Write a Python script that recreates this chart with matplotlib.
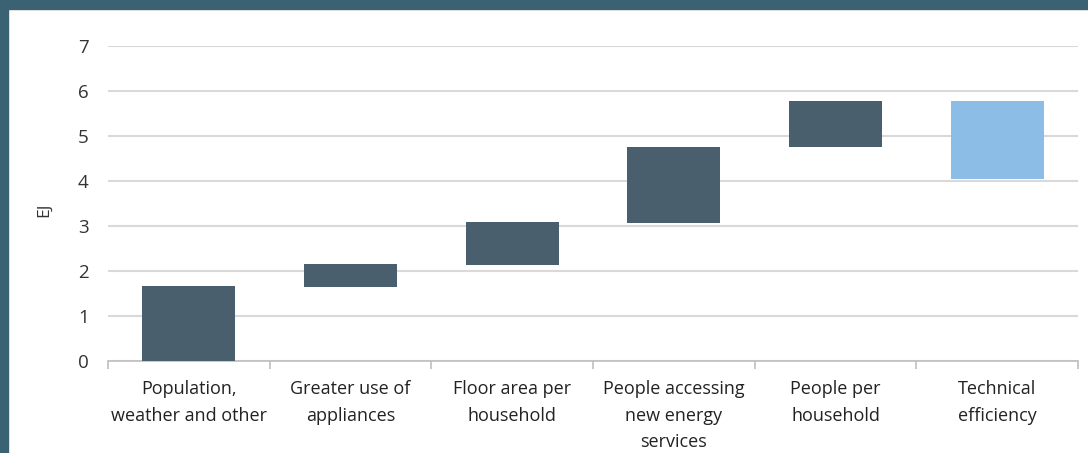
"""Waterfall: Zerlegung des Energiebedarfs von Gebäuden (EJ)."""

import matplotlib
matplotlib.use("Agg")
import matplotlib.pyplot as plt
from matplotlib.patches import Rectangle

# Daten

KATEGORIEN = [
    "Population,\nweather and other",
    "Greater use of\nappliances",
    "Floor area per\nhousehold",
    "People accessing\nnew energy\nservices",
    "People per\nhousehold",
    "Technical\nefficiency",
]
UNTEN = [0.0, 1.65, 2.13, 3.07, 4.76, 4.05]
OBEN = [1.66, 2.15, 3.08, 4.76, 5.78, 5.78]
FARBEN = ["#4a5f6d", "#4a5f6d", "#4a5f6d", "#4a5f6d", "#4a5f6d", "#8bbde6"]
Y_TICKS = [0, 1, 2, 3, 4, 5, 6, 7]

plt.rcParams["font.family"] = ["Open Sans", "DejaVu Sans"]

fig = plt.figure(figsize=(10.88, 4.53), dpi=100)
fig.patch.set_facecolor("white")

# Rahmen oben und links
rand = "#3a6272"
fig.patches.append(Rectangle((0, 1 - 9 / 453), 1, 9 / 453,
                             transform=fig.transFigure, color=rand, zorder=0))
fig.patches.append(Rectangle((0, 0), 8 / 1088, 1,
                             transform=fig.transFigure, color=rand, zorder=0))

ax = fig.add_axes([108 / 1088, 1 - 361 / 453, 970 / 1088, 315 / 453])

x = list(range(len(KATEGORIEN)))
hoehen = [o - u for o, u in zip(OBEN, UNTEN)]
ax.bar(x, hoehen, bottom=UNTEN, width=0.575, color=FARBEN, zorder=3)

ax.set_xlim(-0.5, len(KATEGORIEN) - 0.5)
ax.set_ylim(0, 7)
ax.set_yticks(Y_TICKS)
ax.yaxis.grid(True, color="#d9d9d9", linewidth=1.5, zorder=0)
ax.set_axisbelow(True)

ax.set_xticks(x)
ax.set_xticklabels(KATEGORIEN, fontsize=13, color="#222222",
                   linespacing=1.6)
ax.set_xticks([i - 0.5 for i in range(len(KATEGORIEN) + 1)], minor=True)
ax.tick_params(axis="x", which="major", length=0, pad=14)
ax.tick_params(axis="x", which="minor", length=6, color="#bfbfbf", width=1.2)
ax.tick_params(axis="y", length=0, pad=14, labelsize=13.5, labelcolor="#333333")

for s in ["top", "right", "left"]:
    ax.spines[s].set_visible(False)
ax.spines["bottom"].set_color("#bfbfbf")
ax.spines["bottom"].set_linewidth(1.2)

ax.set_ylabel("EJ", fontsize=12.5, color="#333333")
ax.yaxis.set_label_coords(-0.058, 0.479)

fig.savefig("out.png", dpi=100)
